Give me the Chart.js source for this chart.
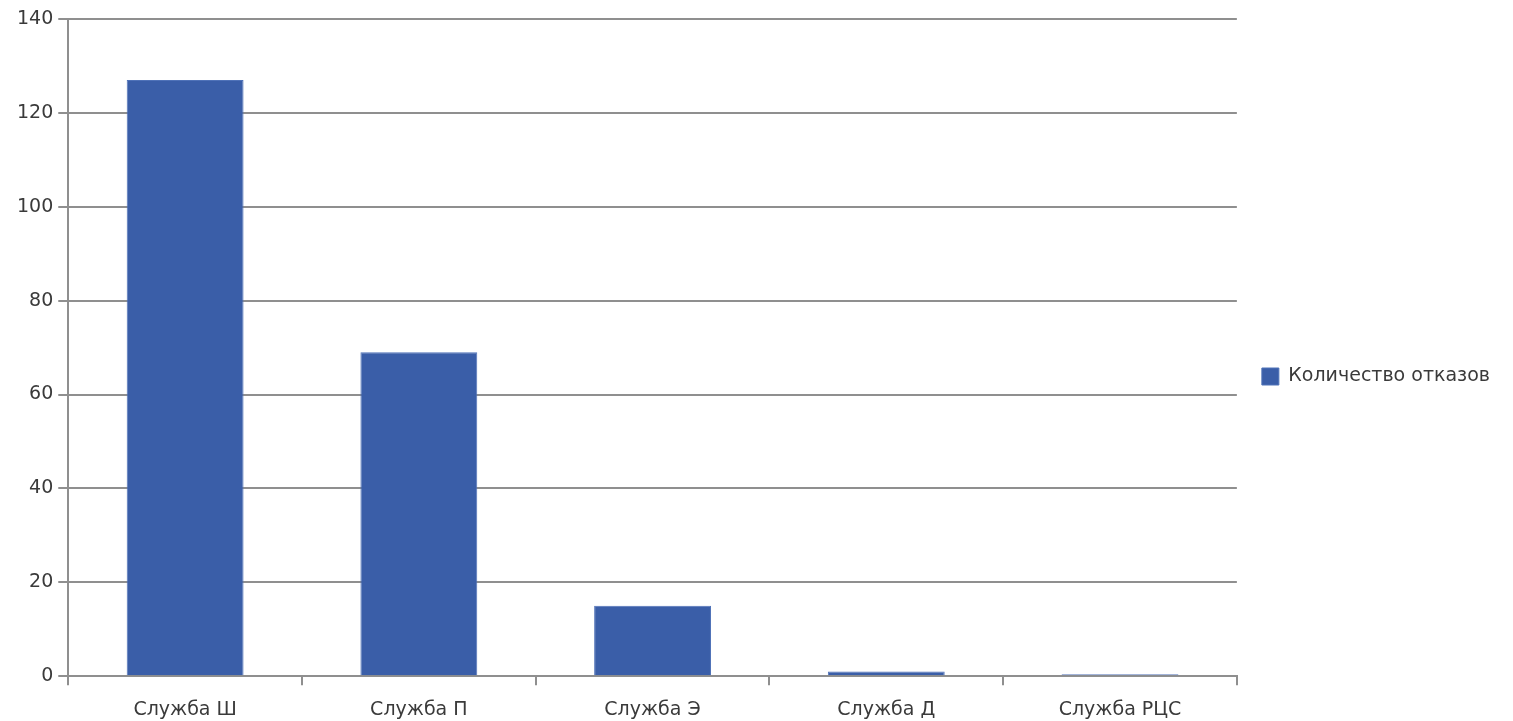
<!DOCTYPE html>
<html>
<head>
<meta charset="utf-8">
<script src="https://cdn.jsdelivr.net/npm/chart.js@4"></script>
<style>
  html, body { margin: 0; padding: 0; background: #fff; }
  #wrap { width: 1513px; height: 721px; position: relative; }
</style>
</head>
<body>
<div id="wrap"><canvas id="failChart"></canvas></div>
<script>
const categories = ["Служба Ш", "Служба П", "Служба Э", "Служба Д", "Служба РЦС"];
const failures = [127, 69, 15, 1, 0.4];
const seriesName = "Количество отказов";

const yMin = 0;
const yMax = 140;
const yStep = 20;

const textColor = "#3a3a3a";
const gridColor = "#8f8f8f";

document.addEventListener("DOMContentLoaded", function () {
  const ctx = document.getElementById("failChart").getContext("2d");
  new Chart(ctx, {
    type: "bar",
    data: {
      labels: categories,
      datasets: [
        {
          label: seriesName,
          data: failures,
          backgroundColor: "#3a5ea8",
          borderColor: "#4f72b8",
          borderWidth: 1,
          barPercentage: 0.5,
          categoryPercentage: 1,
        },
      ],
    },
    options: {
      responsive: true,
      maintainAspectRatio: false,
      animation: false,
      // negative bottom: tick padding is counted twice in the axis height
      layout: { padding: { top: 19, left: 12, right: 13, bottom: -13 } },
      plugins: {
        legend: {
          position: "right",
          labels: {
            boxWidth: 17,
            boxHeight: 17,
            padding: 25,
            color: textColor,
            font: { family: "DejaVu Sans", size: 19 },
          },
        },
        tooltip: { enabled: false },
      },
      scales: {
        x: {
          grid: {
            offset: true,
            drawOnChartArea: false,
            color: gridColor,
            lineWidth: 2,
            tickLength: 9,
          },
          border: { color: gridColor, width: 2 },
          ticks: {
            color: textColor,
            padding: 13,
            maxRotation: 0,
            font: { family: "DejaVu Sans", size: 19 },
          },
        },
        y: {
          min: yMin,
          max: yMax,
          grid: { color: gridColor, lineWidth: 2, tickLength: 10 },
          border: { color: gridColor, width: 2 },
          ticks: {
            stepSize: yStep,
            color: textColor,
            padding: 5,
            font: { family: "DejaVu Sans", size: 19 },
          },
        },
      },
    },
  });
});
</script>
</body>
</html>
